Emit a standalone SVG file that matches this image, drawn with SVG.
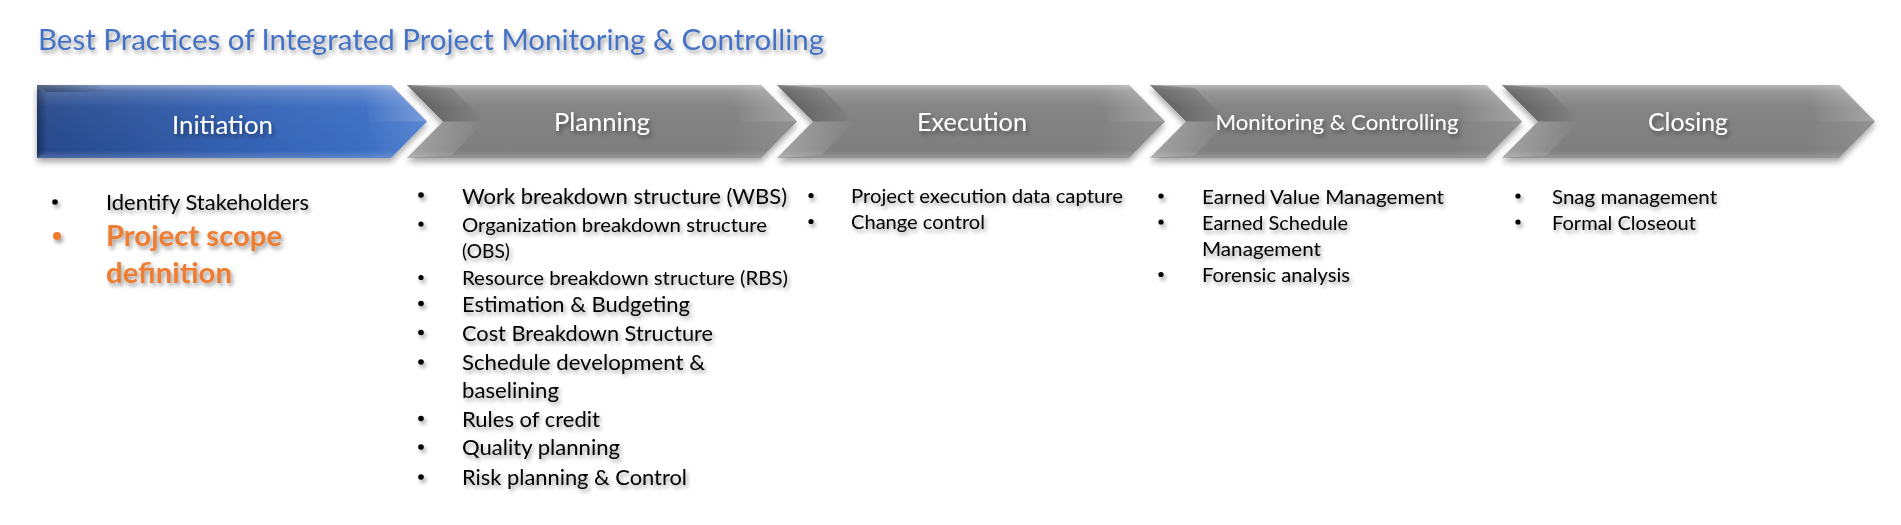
<svg xmlns="http://www.w3.org/2000/svg" width="1901" height="525" viewBox="0 0 1901 525">
<defs>
<style>
text{font-family:Lato,"Open Sans","Liberation Sans",sans-serif}
.title{font-size:28.5px;fill:#4472c4}
.lbl{font-size:24.8px;fill:#ffffff;text-anchor:middle}
.lbl-s{font-size:21px;fill:#ffffff;text-anchor:middle}
.big{font-size:21.3px;fill:#000}
.sm{font-size:19.6px;fill:#000}
.hl{font-size:28.5px;font-weight:bold;fill:#ed7d31}
.bul{fill:#000}
.bul-o{fill:#ed7d31}
.gray{fill:#7f7f7f}
.blue{fill:url(#gBlue)}
.sheen{fill:url(#gSheen)}
.dl{fill:url(#gDarkL)}
.ll{fill:url(#gLightL)}
.lr{fill:url(#gLightR)}
.dr{fill:url(#gDarkR)}
</style>
<linearGradient id="gBlue" x1="0" y1="0" x2="1" y2="0">
<stop offset="0" stop-color="#27488a"/>
<stop offset="0.5" stop-color="#3360b1"/>
<stop offset="1" stop-color="#3f73ca"/>
</linearGradient>
<linearGradient id="gSheen" x1="0" y1="0" x2="0" y2="1">
<stop offset="0" stop-color="#ffffff" stop-opacity="0.45"/>
<stop offset="0.08" stop-color="#ffffff" stop-opacity="0.2"/>
<stop offset="0.3" stop-color="#ffffff" stop-opacity="0.04"/>
<stop offset="0.9" stop-color="#ffffff" stop-opacity="0"/>
<stop offset="1" stop-color="#ffffff" stop-opacity="0.18"/>
</linearGradient>
<linearGradient id="gDarkL" x1="0" y1="0" x2="1" y2="0">
<stop offset="0" stop-color="#000" stop-opacity="0.32"/>
<stop offset="1" stop-color="#000" stop-opacity="0"/>
</linearGradient>
<linearGradient id="gLightL" x1="0" y1="0" x2="1" y2="0">
<stop offset="0" stop-color="#fff" stop-opacity="0.3"/>
<stop offset="1" stop-color="#fff" stop-opacity="0"/>
</linearGradient>
<linearGradient id="gLightR" x1="0" y1="0" x2="1" y2="0">
<stop offset="0" stop-color="#fff" stop-opacity="0"/>
<stop offset="1" stop-color="#fff" stop-opacity="0.28"/>
</linearGradient>
<linearGradient id="gDarkR" x1="0" y1="0" x2="1" y2="0">
<stop offset="0" stop-color="#fff" stop-opacity="0"/>
<stop offset="1" stop-color="#fff" stop-opacity="0.12"/>
</linearGradient>
<filter id="shadow" x="-5%" y="-20%" width="110%" height="160%">
<feGaussianBlur in="SourceAlpha" stdDeviation="3"/>
<feOffset dx="0" dy="4"/>
<feComponentTransfer><feFuncA type="linear" slope="0.35"/></feComponentTransfer>
<feMerge><feMergeNode/><feMergeNode in="SourceGraphic"/></feMerge>
</filter>
<filter id="tshadow" x="-10%" y="-20%" width="120%" height="150%">
<feGaussianBlur in="SourceAlpha" stdDeviation="2"/>
<feOffset dx="2" dy="3"/>
<feComponentTransfer><feFuncA type="linear" slope="0.4"/></feComponentTransfer>
<feMerge><feMergeNode/><feMergeNode in="SourceGraphic"/></feMerge>
</filter>
</defs>
<rect width="1901" height="525" fill="#ffffff"/>

<g id="title" filter="url(#tshadow)">
<text class="title" x="38" y="49.5" textLength="786" lengthAdjust="spacingAndGlyphs">Best Practices of Integrated Project Monitoring &amp; Controlling</text>
</g>

<g id="connectors"/>

<g id="initiation">
<g filter="url(#shadow)">
<path class="blue" d="M37,85 H391 L427,121.5 L391,158 H37 Z"/>
<path class="sheen" d="M37,85 H391 L427,121.5 L391,158 H37 Z"/>
<polygon class="dl" points="37,85 47,92 47,151 37,158"/>
<polygon class="dl" points="37,85 47,92 110,92 96,85"/>
<polygon class="lr" points="391,85 427,121.5 370,121.5 362,89"/>
<polygon class="dr" points="391,158 427,121.5 370,121.5 362,154"/>
</g>
<text class="lbl" x="222.5" y="134" textLength="101" lengthAdjust="spacingAndGlyphs" filter="url(#tshadow)">Initiation</text>
<g id="initiation-items" filter="url(#tshadow)">
<circle class="bul" cx="55" cy="202" r="2.8"/>
<text class="big" x="106" y="210" textLength="203" lengthAdjust="spacingAndGlyphs">Identify Stakeholders</text>
<circle class="bul-o" cx="57" cy="236" r="4"/>
<text class="hl" x="106" y="246" textLength="176" lengthAdjust="spacingAndGlyphs">Project scope</text>
<text class="hl" x="106" y="283" textLength="126" lengthAdjust="spacingAndGlyphs">definition</text>
</g>
</g>

<g id="planning">
<g filter="url(#shadow)">
<path class="gray" d="M407,85 H761 L797,121.5 L761,158 H407 L443,121.5 Z"/>
<path class="sheen" d="M407,85 H761 L797,121.5 L761,158 H407 L443,121.5 Z"/>
<polygon class="dl" points="407,85 452,88 484,121.5 443,121.5"/>
<polygon class="ll" points="407,158 452,155 484,121.5 443,121.5"/>
<polygon class="lr" points="761,85 797,121.5 740,121.5 730,89"/>
<polygon class="dr" points="761,158 797,121.5 740,121.5 730,154"/>
</g>
<text class="lbl" x="602" y="130.5" textLength="96" lengthAdjust="spacingAndGlyphs" filter="url(#tshadow)">Planning</text>
<g id="planning-items" filter="url(#tshadow)">
<circle class="bul" cx="421" cy="195" r="2.8"/>
<text class="big" x="462" y="203.5" textLength="325" lengthAdjust="spacingAndGlyphs">Work breakdown structure (WBS)</text>
<circle class="bul" cx="421" cy="224" r="2.6"/>
<text class="sm" x="462" y="231.5" textLength="305" lengthAdjust="spacingAndGlyphs">Organization breakdown structure</text>
<text class="sm" x="462" y="257.5" textLength="48" lengthAdjust="spacingAndGlyphs">(OBS)</text>
<circle class="bul" cx="421" cy="277.5" r="2.6"/>
<text class="sm" x="462" y="285" textLength="326" lengthAdjust="spacingAndGlyphs">Resource breakdown structure (RBS)</text>
<circle class="bul" cx="421" cy="303.5" r="2.8"/>
<text class="big" x="462" y="311.5" textLength="228" lengthAdjust="spacingAndGlyphs">Estimation &amp; Budgeting</text>
<circle class="bul" cx="421" cy="332.5" r="2.8"/>
<text class="big" x="462" y="340.5" textLength="251" lengthAdjust="spacingAndGlyphs">Cost Breakdown Structure</text>
<circle class="bul" cx="421" cy="362" r="2.8"/>
<text class="big" x="462" y="370" textLength="243" lengthAdjust="spacingAndGlyphs">Schedule development &amp;</text>
<text class="big" x="462" y="397.5" textLength="97" lengthAdjust="spacingAndGlyphs">baselining</text>
<circle class="bul" cx="421" cy="418.5" r="2.8"/>
<text class="big" x="462" y="426.5" textLength="138" lengthAdjust="spacingAndGlyphs">Rules of credit</text>
<circle class="bul" cx="421" cy="447" r="2.8"/>
<text class="big" x="462" y="455" textLength="158" lengthAdjust="spacingAndGlyphs">Quality planning</text>
<circle class="bul" cx="421" cy="477" r="2.8"/>
<text class="big" x="462" y="485" textLength="225" lengthAdjust="spacingAndGlyphs">Risk planning &amp; Control</text>
</g>
</g>

<g id="execution">
<g filter="url(#shadow)">
<path class="gray" d="M777,85 H1129 L1165,121.5 L1129,158 H777 L813,121.5 Z"/>
<path class="sheen" d="M777,85 H1129 L1165,121.5 L1129,158 H777 L813,121.5 Z"/>
<polygon class="dl" points="777,85 822,88 854,121.5 813,121.5"/>
<polygon class="ll" points="777,158 822,155 854,121.5 813,121.5"/>
<polygon class="lr" points="1129,85 1165,121.5 1108,121.5 1098,89"/>
<polygon class="dr" points="1129,158 1165,121.5 1108,121.5 1098,154"/>
</g>
<text class="lbl" x="972" y="130.5" textLength="110" lengthAdjust="spacingAndGlyphs" filter="url(#tshadow)">Execution</text>
<g id="execution-items" filter="url(#tshadow)">
<circle class="bul" cx="811" cy="195.5" r="2.6"/>
<text class="sm" x="851" y="203" textLength="272" lengthAdjust="spacingAndGlyphs">Project execution data capture</text>
<circle class="bul" cx="811" cy="221.5" r="2.6"/>
<text class="sm" x="851" y="229" textLength="134" lengthAdjust="spacingAndGlyphs">Change control</text>
</g>
</g>

<g id="monitoring-controlling">
<g filter="url(#shadow)">
<path class="gray" d="M1150,85 H1486 L1522,121.5 L1486,158 H1150 L1186,121.5 Z"/>
<path class="sheen" d="M1150,85 H1486 L1522,121.5 L1486,158 H1150 L1186,121.5 Z"/>
<polygon class="dl" points="1150,85 1195,88 1227,121.5 1186,121.5"/>
<polygon class="ll" points="1150,158 1195,155 1227,121.5 1186,121.5"/>
<polygon class="lr" points="1486,85 1522,121.5 1465,121.5 1455,89"/>
<polygon class="dr" points="1486,158 1522,121.5 1465,121.5 1455,154"/>
</g>
<text class="lbl-s" x="1337" y="130" textLength="243" lengthAdjust="spacingAndGlyphs" filter="url(#tshadow)">Monitoring &amp; Controlling</text>
<g id="monitoring-items" filter="url(#tshadow)">
<circle class="bul" cx="1161" cy="196" r="2.6"/>
<text class="sm" x="1202" y="203.5" textLength="242" lengthAdjust="spacingAndGlyphs">Earned Value Management</text>
<circle class="bul" cx="1161" cy="222" r="2.6"/>
<text class="sm" x="1202" y="229.5" textLength="146" lengthAdjust="spacingAndGlyphs">Earned Schedule</text>
<text class="sm" x="1202" y="255.5" textLength="119" lengthAdjust="spacingAndGlyphs">Management</text>
<circle class="bul" cx="1161" cy="274.5" r="2.6"/>
<text class="sm" x="1202" y="282" textLength="148" lengthAdjust="spacingAndGlyphs">Forensic analysis</text>
</g>
</g>

<g id="closing">
<g filter="url(#shadow)">
<path class="gray" d="M1502,85 H1839 L1875,121.5 L1839,158 H1502 L1538,121.5 Z"/>
<path class="sheen" d="M1502,85 H1839 L1875,121.5 L1839,158 H1502 L1538,121.5 Z"/>
<polygon class="dl" points="1502,85 1547,88 1579,121.5 1538,121.5"/>
<polygon class="ll" points="1502,158 1547,155 1579,121.5 1538,121.5"/>
<polygon class="lr" points="1839,85 1875,121.5 1818,121.5 1808,89"/>
<polygon class="dr" points="1839,158 1875,121.5 1818,121.5 1808,154"/>
</g>
<text class="lbl" x="1688" y="130.5" textLength="80" lengthAdjust="spacingAndGlyphs" filter="url(#tshadow)">Closing</text>
<g id="closing-items" filter="url(#tshadow)">
<circle class="bul" cx="1518" cy="196" r="2.6"/>
<text class="sm" x="1552" y="203.5" textLength="165" lengthAdjust="spacingAndGlyphs">Snag management</text>
<circle class="bul" cx="1518" cy="222" r="2.6"/>
<text class="sm" x="1552" y="229.5" textLength="144" lengthAdjust="spacingAndGlyphs">Formal Closeout</text>
</g>
</g>
</svg>
